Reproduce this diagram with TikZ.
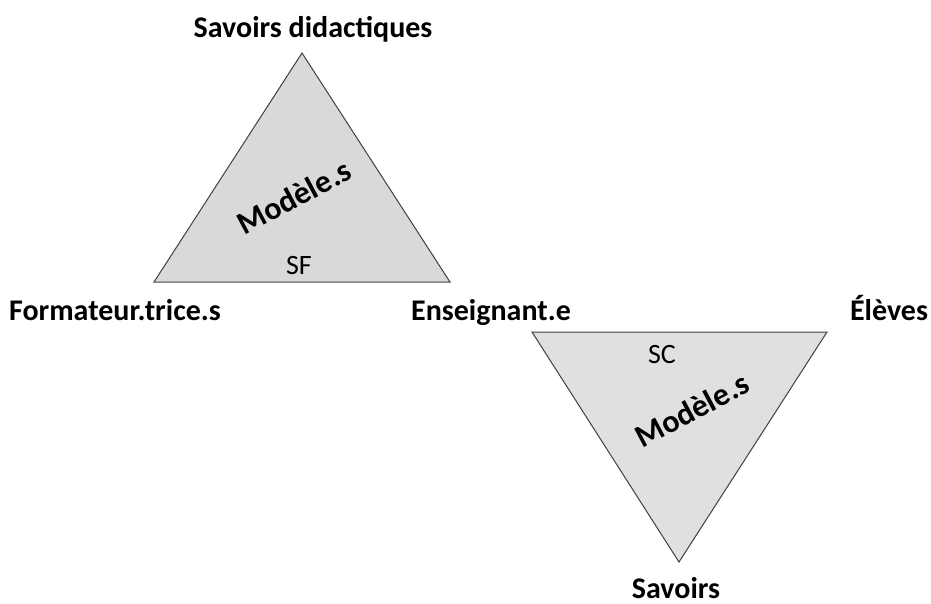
\documentclass[tikz,border=0pt]{standalone}
\usepackage{fontspec}
\setmainfont{Carlito}
\begin{document}
\begin{tikzpicture}[x=1pt,y=-1pt,
  lbl/.style={font=\fontsize{30}{34}\selectfont\bfseries,inner sep=0pt,anchor=base},
  mdl/.style={font=\fontsize{32}{36}\selectfont\bfseries,inner sep=0pt,rotate=28},
  sub/.style={font=\fontsize{28}{32}\selectfont,inner sep=0pt,anchor=base},
  tri/.style={draw=black!75,line width=1pt,line join=miter}]
\useasboundingbox (0,0) rectangle (931,603);
\coordinate (A1) at (302,53);
\coordinate (B1) at (154,282);
\coordinate (C1) at (450,282);
\coordinate (A2) at (532,332);
\coordinate (B2) at (827,332);
\coordinate (C2) at (679,562);
\filldraw[tri,fill=black!15] (A1) -- (B1) -- (C1) -- cycle;
\filldraw[tri,fill=black!12] (A2) -- (B2) -- (C2) -- cycle;
\node[lbl] (SD) at (313,37) {Savoirs didactiques};
\node[lbl] (FT) at (115,320) {Formateur.trice.s};
\node[lbl] (EN) at (491,320) {Enseignant.e};
\node[lbl] (EL) at (889,320) {Élèves};
\node[lbl] (SV) at (676,598) {Savoirs};
\node[mdl] (M1) at (294,197) {Modèle.s};
\node[mdl] (M2) at (692,410) {Modèle.s};
\node[sub] (SF) at (299,274) {SF};
\node[sub] (SC) at (662,363) {SC};
\end{tikzpicture}
\end{document}
